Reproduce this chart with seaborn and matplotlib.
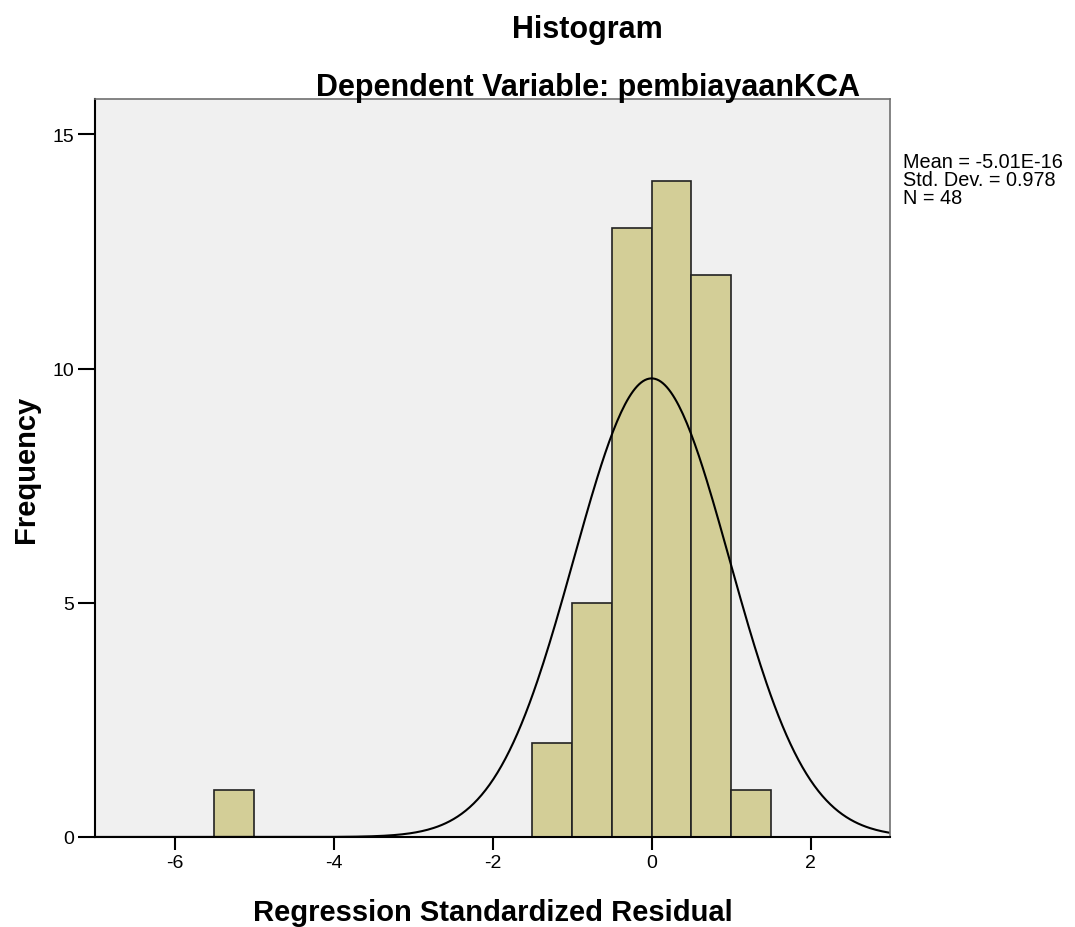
import seaborn as sns
import matplotlib.pyplot as plt
import numpy as np
import pandas as pd

# Histogram of residuals (bin edges, counts)
bin_left = [-5.5, -1.5, -1.0, -0.5, 0.0, 0.5, 1.0]
counts = [1, 2, 5, 13, 14, 12, 1]
bin_width = 0.5

mean = -5.01e-16
std = 0.978
n = 48

sns.set_style("white")
plt.rcParams['font.family'] = ['Liberation Sans', 'DejaVu Sans']
plt.rcParams['axes.unicode_minus'] = False
plt.rcParams['text.color'] = 'black'
plt.rcParams['axes.labelcolor'] = 'black'
plt.rcParams['xtick.color'] = 'black'
plt.rcParams['ytick.color'] = 'black'

fig = plt.figure(figsize=(10.75, 9.28), dpi=100)
ax = fig.add_axes([0.0884, 0.097, 0.7396, 0.795])
ax.set_facecolor('#f0f0f0')

df = pd.DataFrame({'resid': [b + bin_width / 2 for b in bin_left], 'count': counts})
sns.histplot(data=df, x='resid', weights='count', binwidth=bin_width, binrange=(-7, 3), ax=ax,
             color='#d3ce97', edgecolor='#222222', linewidth=1.2, alpha=1)

# normal curve scaled to counts
xs = np.linspace(-7, 3, 400)
ys = n * bin_width * np.exp(-0.5 * ((xs - mean) / std) ** 2) / (std * np.sqrt(2 * np.pi))
sns.lineplot(x=xs, y=ys, ax=ax, color='black', linewidth=1.5)

ax.set_xlim(-7, 3)
ax.set_ylim(0, 15.75)
ax.set_xticks([-6, -4, -2, 0, 2])
ax.set_yticks([0, 5, 10, 15])
ax.tick_params(axis='both', bottom=True, left=True, direction='out', length=9, width=1.5,
               labelsize=14, color='black', labelcolor='black')
ax.tick_params(axis='y', length=12, pad=3)

for s in ['left', 'bottom']:
    ax.spines[s].set_color('black')
    ax.spines[s].set_linewidth(1.5)
for s in ['top', 'right']:
    ax.spines[s].set_color('#707070')
    ax.spines[s].set_linewidth(1.2)

ax.set_xlabel('Regression Standardized Residual', fontsize=21, fontweight='bold', labelpad=19)
ax.set_ylabel('Frequency', fontsize=21, fontweight='bold', labelpad=9)

fig.text(0.546, 0.968, 'Histogram', ha='center', va='center', fontsize=22, fontweight='bold')
fig.text(0.547, 0.905, 'Dependent Variable: pembiayaanKCA', ha='center', va='center',
         fontsize=22, fontweight='bold')

fig.text(0.840, 0.835, 'Mean = -5.01E-16\nStd. Dev. = 0.978\nN = 48', ha='left', va='top',
         fontsize=14.3, linespacing=0.93)

fig.savefig('out.png', dpi=100)
